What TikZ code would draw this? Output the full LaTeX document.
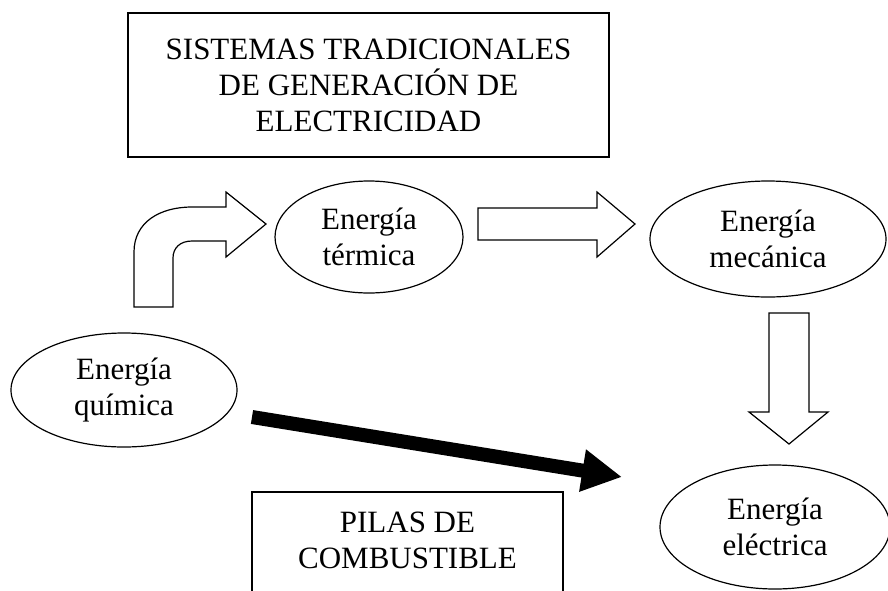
\documentclass[tikz,border=0pt]{standalone}
\usepackage{fontspec}
\setmainfont{Liberation Serif}
\usetikzlibrary{shapes.geometric,arrows.meta}
\begin{document}
\begin{tikzpicture}[x=1pt,y=-1pt,
  every node/.style={font=\fontsize{31}{36}\selectfont, align=center, text=black},
  ell/.style={ellipse, draw, line width=1.2pt, inner sep=0pt},
  boxnode/.style={draw, line width=1.2pt, inner sep=0pt},
  blk/.style={draw, line width=1.2pt, line join=miter, fill=white},
  bigarrow/.style={line width=14pt, -{Triangle[length=40pt,width=40pt]}}]
\useasboundingbox (0,0) rectangle (888,590);
\clip (0,0) rectangle (888,590);
\fill[white] (0,0) rectangle (888,590);

\node[boxnode, minimum width=481pt, minimum height=144pt] (sist) at (368.5,85)
  {SISTEMAS TRADICIONALES\\DE GENERACIÓN DE\\ELECTRICIDAD};
\node[ell, minimum width=188pt, minimum height=112pt] (term) at (369,237) {Energía\\térmica};
\node[ell, minimum width=236pt, minimum height=116pt] (mec) at (768,239) {Energía\\mecánica};
\node[ell, minimum width=226pt, minimum height=114pt] (quim) at (124,390) {Energía\\química};
\node[ell, minimum width=230pt, minimum height=124pt] (elec) at (775,527) {Energía\\eléctrica};
\node (pilas) at (407.5,540) {PILAS DE\\COMBUSTIBLE};
\draw[line width=1.2pt] (252,600) -- (252,492) -- (563,492) -- (563,600);

% bent block arrow
\draw[blk] (134,307) -- (134,252) .. controls (134,222) and (160,207) .. (192,207)
  -- (226,207) -- (226,192) -- (266,224) -- (226,257) -- (226,241) -- (192,241)
  .. controls (180,241) and (173,248) .. (173,258) -- (173,307) -- cycle;
% straight block arrow
\draw[blk] (478,208) -- (597,208) -- (597,192) -- (635,224) -- (597,257) -- (597,240) -- (478,240) -- cycle;
% down block arrow
\draw[blk] (769,313) -- (809,313) -- (809,412) -- (828,412) -- (789,444) -- (749,412) -- (769,412) -- cycle;

% thick black arrow
\coordinate (ta) at (252,417);
\coordinate (tb) at (622,477);
\draw[bigarrow] (ta) -- (tb);
\end{tikzpicture}
\end{document}
